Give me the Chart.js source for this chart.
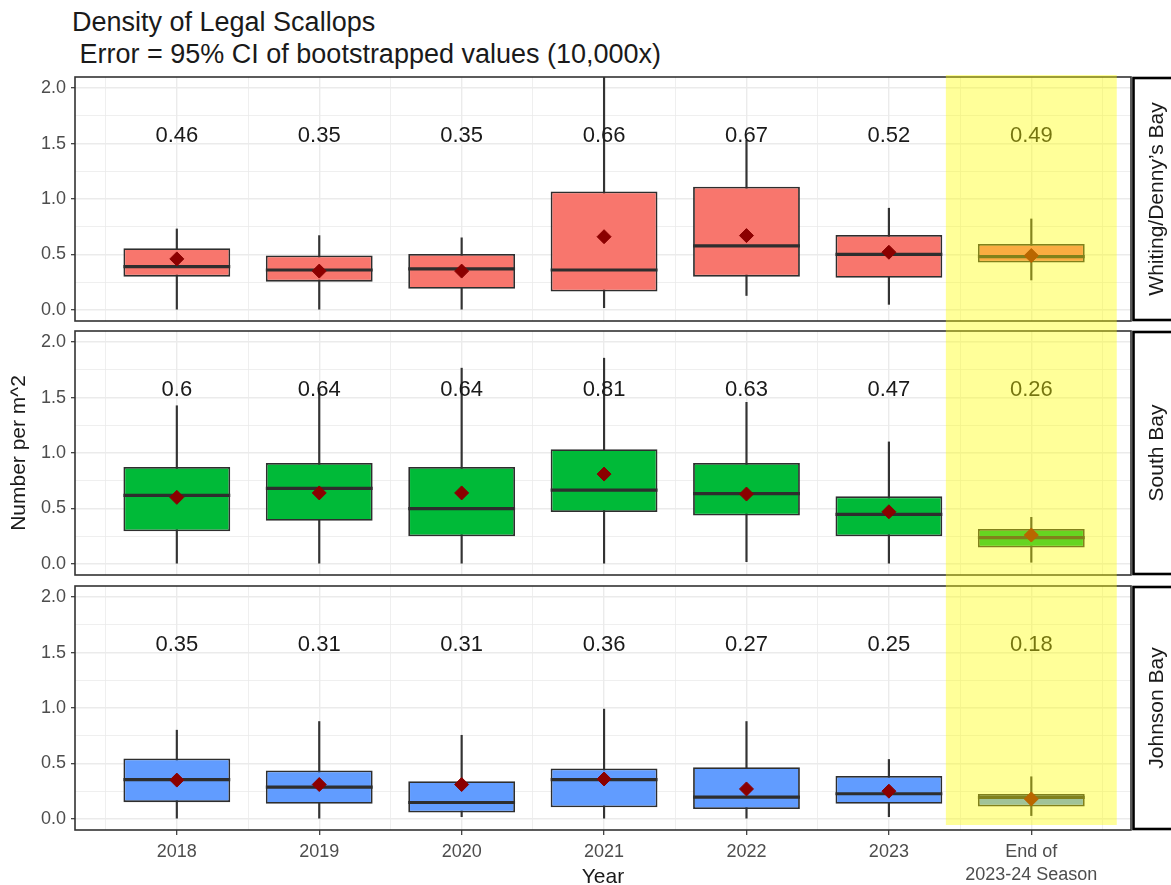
<!DOCTYPE html>
<html>
<head>
<meta charset="utf-8">
<title>Density of Legal Scallops</title>
<script src="https://cdn.jsdelivr.net/npm/chart.js@4.4.1/dist/chart.umd.min.js"></script>
<style>
  html, body { margin: 0; padding: 0; background: #ffffff; }
  #wrap { position: relative; width: 1171px; height: 885px; overflow: hidden; font-family: "Liberation Sans", Arial, sans-serif; }
  #wrap canvas { position: absolute; left: 0; }
  .ttl { position: absolute; left: 72px; font-size: 27px; line-height: 1; color: #1a1a1a; white-space: pre; }
</style>
</head>
<body>
<div id="wrap">
  <div class="ttl" style="top:9px">Density of Legal Scallops</div>
  <div class="ttl" style="top:41px"> Error = 95% CI of bootstrapped values (10,000x)</div>
  <canvas id="panelWD" width="1171" height="256" style="top:70px"></canvas>
  <canvas id="panelSB" width="1171" height="254" style="top:326px"></canvas>
  <canvas id="panelJB" width="1171" height="305" style="top:580px"></canvas>
</div>
<script>
// ---- categories and tick labels ----
const categories = ['2018', '2019', '2020', '2021', '2022', '2023', ['End of', '2023-24 Season']];
const bays = ['Whiting/Denny\u2019s Bay', 'South Bay', 'Johnson Bay'];
const yTickValues = [0, 0.25, 0.5, 0.75, 1, 1.25, 1.5, 1.75, 2];
const xTickValues = [-0.5, 0, 0.5, 1, 1.5, 2, 2.5, 3, 3.5, 4, 4.5, 5, 5.5, 6, 6.5];

// ---- Whiting/Denny's Bay: whisker ends, quartiles, median, mean ----
const wdLow  = [0.00, 0.00, 0.00, 0.02, 0.13, 0.05, 0.27];
const wdQ1   = [0.30, 0.255, 0.19, 0.165, 0.30, 0.29, 0.427];
const wdMed  = [0.39, 0.36, 0.37, 0.36, 0.577, 0.50, 0.48];
const wdQ3   = [0.557, 0.49, 0.505, 1.067, 1.11, 0.676, 0.595];
const wdHigh = [0.73, 0.67, 0.65, 2.40, 1.53, 0.917, 0.82];
const wdMean = [0.46, 0.35, 0.35, 0.66, 0.67, 0.52, 0.49];

// ---- South Bay ----
const sbLow  = [0.00, 0.00, 0.00, 0.00, 0.02, 0.00, 0.015];
const sbQ1   = [0.295, 0.389, 0.25, 0.467, 0.437, 0.25, 0.147];
const sbMed  = [0.618, 0.681, 0.498, 0.666, 0.633, 0.446, 0.237];
const sbQ3   = [0.874, 0.91, 0.874, 1.034, 0.91, 0.609, 0.315];
const sbHigh = [1.426, 1.58, 1.765, 1.855, 1.457, 1.10, 0.42];
const sbMean = [0.6, 0.64, 0.64, 0.81, 0.63, 0.47, 0.26];

// ---- Johnson Bay ----
const jbLow  = [0.00, 0.00, 0.02, 0.00, 0.00, 0.02, 0.03];
const jbQ1   = [0.151, 0.136, 0.057, 0.105, 0.09, 0.136, 0.112];
const jbMed  = [0.355, 0.287, 0.148, 0.355, 0.197, 0.227, 0.195];
const jbQ3   = [0.545, 0.436, 0.339, 0.454, 0.466, 0.387, 0.225];
const jbHigh = [0.80, 0.878, 0.754, 0.99, 0.878, 0.536, 0.38];
const jbMean = [0.35, 0.31, 0.31, 0.36, 0.27, 0.25, 0.18];

// ---- layout constants ----
const Y_MIN = -0.1, Y_MAX = 2.1;
const X_MIN = -0.715, X_MAX = 6.7;
const LABEL_Y = 1.57;          // height at which the mean labels sit
const BOX_WIDTH = 0.75;        // box width in category units
const HIGHLIGHT_INDEX = 6;     // the end-of-season category
const HIGHLIGHT_HALF = 0.6;
const FONT = '"Liberation Sans", Arial, sans-serif';

Chart.defaults.font.family = FONT;
Chart.defaults.animation = false;

const isMajorY = v => Math.abs(v * 2 - Math.round(v * 2)) < 1e-9;
const isMajorX = v => Number.isInteger(v);

function halfBoxPx(chart) {
  const s = chart.scales && chart.scales.x;
  if (!s) return 0;
  const w = s.getPixelForValue(BOX_WIDTH / 2) - s.getPixelForValue(0);
  return Number.isFinite(w) ? Math.abs(w) : 0;
}

function buildPanel(cfg) {
  const pts = arr => arr.map((v, i) => ({ x: i, y: v }));
  const ranges = (a, b) => a.map((v, i) => ({ x: i, y: [v, b[i]] }));

  // mean values written above each box
  const meanLabels = {
    id: 'meanLabels',
    afterDatasetsDraw(chart) {
      const { ctx, scales: { x, y } } = chart;
      ctx.save();
      ctx.font = '22px ' + FONT;
      ctx.fillStyle = '#1a1a1a';
      ctx.textAlign = 'center';
      ctx.textBaseline = 'middle';
      cfg.mean.forEach((v, i) => {
        ctx.fillText(String(v), x.getPixelForValue(i), y.getPixelForValue(LABEL_Y));
      });
      ctx.restore();
    }
  };

  // panel border, facet strip, season highlight and axis titles
  const frame = {
    id: 'frame',
    afterDraw(chart) {
      const { ctx, chartArea: a, scales: { x } } = chart;
      ctx.save();
      ctx.strokeStyle = '#333333';
      ctx.lineWidth = 1.6;
      ctx.strokeRect(a.left, a.top, a.right - a.left, a.bottom - a.top);

      const sx = a.right + 2.5, sTop = a.top + 1, sH = a.bottom - a.top - 2;
      ctx.fillStyle = '#ffffff';
      ctx.fillRect(sx, sTop, 70, sH);
      ctx.strokeStyle = '#000000';
      ctx.lineWidth = 2.6;
      ctx.strokeRect(sx, sTop, 70, sH);
      ctx.save();
      ctx.translate(a.right + 26, (a.top + a.bottom) / 2);
      ctx.rotate(-Math.PI / 2);
      ctx.fillStyle = '#1a1a1a';
      ctx.font = '21px ' + FONT;
      ctx.textAlign = 'center';
      ctx.textBaseline = 'middle';
      ctx.fillText(cfg.bay, 0, 0);
      ctx.restore();

      const bx0 = x.getPixelForValue(HIGHLIGHT_INDEX - HIGHLIGHT_HALF);
      const bx1 = x.getPixelForValue(HIGHLIGHT_INDEX + HIGHLIGHT_HALF);
      ctx.fillStyle = 'rgba(255, 255, 0, 0.4)';
      ctx.fillRect(bx0, cfg.bandTop, bx1 - bx0, cfg.bandBottom - cfg.bandTop);

      ctx.fillStyle = '#1a1a1a';
      ctx.textAlign = 'center';
      ctx.textBaseline = 'middle';
      if (cfg.yTitle) {
        ctx.save();
        ctx.translate(19, (a.top + a.bottom) / 2);
        ctx.rotate(-Math.PI / 2);
        ctx.font = '21px ' + FONT;
        ctx.fillText(cfg.yTitle, 0, 0);
        ctx.restore();
      }
      if (cfg.xTitle) {
        ctx.font = '21px ' + FONT;
        ctx.fillText(cfg.xTitle, (a.left + a.right) / 2, cfg.xTitleY);
      }
      ctx.restore();
    }
  };

  return new Chart(document.getElementById(cfg.id), {
    type: 'bar',
    data: {
      datasets: [
        { // whiskers
          type: 'bar', data: ranges(cfg.low, cfg.high),
          backgroundColor: '#333333', borderWidth: 0,
          barThickness: 1.5, grouped: false, order: 4
        },
        { // interquartile boxes (bar ruler follows the half-step grid)
          type: 'bar', data: ranges(cfg.q1, cfg.q3),
          backgroundColor: cfg.fill, borderColor: '#2e2e2e', borderWidth: 1.8,
          borderSkipped: false, grouped: false,
          categoryPercentage: 1, barPercentage: BOX_WIDTH / 0.5, order: 3
        },
        { // medians
          type: 'scatter', data: pts(cfg.med),
          pointStyle: 'line', pointRadius: ctx => halfBoxPx(ctx.chart),
          pointBorderColor: '#2e2e2e', pointBorderWidth: 3.2, order: 2
        },
        { // means
          type: 'scatter', data: pts(cfg.mean),
          pointStyle: 'rectRot', pointRadius: 7,
          pointBackgroundColor: '#8B0000', pointBorderColor: '#8B0000', pointBorderWidth: 1, order: 1
        }
      ]
    },
    options: {
      responsive: false,
      animation: false,
      events: [],
      layout: { autoPadding: false, padding: { top: cfg.padTop, bottom: cfg.padBottom, left: 0, right: 40 } },
      plugins: { legend: { display: false }, tooltip: { enabled: false }, title: { display: false } },
      scales: {
        x: {
          type: 'linear', min: X_MIN, max: X_MAX, offset: false,
          afterBuildTicks: s => { s.ticks = xTickValues.map(v => ({ value: v })); },
          afterFit: s => { s.height = cfg.xAxisHeight; s.paddingLeft = 0; s.paddingRight = 0; },
          border: { display: false },
          grid: {
            offset: false,
            color: '#ebebeb',
            lineWidth: c => (c.tick && isMajorX(c.tick.value)) ? 1.4 : 0.8,
            drawTicks: cfg.showX,
            tickLength: 5,
            tickWidth: 1.2,
            tickColor: c => (c.tick && isMajorX(c.tick.value)) ? '#333333' : 'rgba(0,0,0,0)'
          },
          ticks: {
            display: cfg.showX,
            autoSkip: false, maxRotation: 0, minRotation: 0, padding: 6,
            color: '#4d4d4d',
            font: { size: 18, lineHeight: 1.25 },
            callback: v => isMajorX(v) ? categories[v] : ''
          }
        },
        y: {
          type: 'linear', min: Y_MIN, max: Y_MAX,
          afterBuildTicks: s => { s.ticks = yTickValues.map(v => ({ value: v })); },
          afterFit: s => { s.width = 75; s.paddingTop = 0; s.paddingBottom = 0; },
          border: { display: false },
          grid: {
            color: '#ebebeb',
            lineWidth: c => (c.tick && isMajorY(c.tick.value)) ? 1.4 : 0.8,
            drawTicks: true,
            tickLength: 4,
            tickWidth: 1.2,
            tickColor: c => (c.tick && isMajorY(c.tick.value)) ? '#333333' : 'rgba(0,0,0,0)'
          },
          ticks: {
            padding: 5,
            color: '#4d4d4d',
            font: { size: 18 },
            callback: v => isMajorY(v) ? v.toFixed(1) : ''
          }
        }
      }
    },
    plugins: [meanLabels, frame]
  });
}

buildPanel({
  id: 'panelWD', bay: bays[0], fill: '#F8766D',
  low: wdLow, q1: wdQ1, med: wdMed, q3: wdQ3, high: wdHigh, mean: wdMean,
  padTop: 7, padBottom: 5, xAxisHeight: 0, showX: false,
  bandTop: 5, bandBottom: 256
});
buildPanel({
  id: 'panelSB', bay: bays[1], fill: '#00BA38',
  low: sbLow, q1: sbQ1, med: sbMed, q3: sbQ3, high: sbHigh, mean: sbMean,
  padTop: 5, padBottom: 5, xAxisHeight: 0, showX: false,
  bandTop: 0, bandBottom: 254, yTitle: 'Number per m^2'
});
buildPanel({
  id: 'panelJB', bay: bays[2], fill: '#619CFF',
  low: jbLow, q1: jbQ1, med: jbMed, q3: jbQ3, high: jbHigh, mean: jbMean,
  padTop: 6, padBottom: 0, xAxisHeight: 55, showX: true,
  bandTop: 0, bandBottom: 245, xTitle: 'Year', xTitleY: 297
});
</script>
</body>
</html>
